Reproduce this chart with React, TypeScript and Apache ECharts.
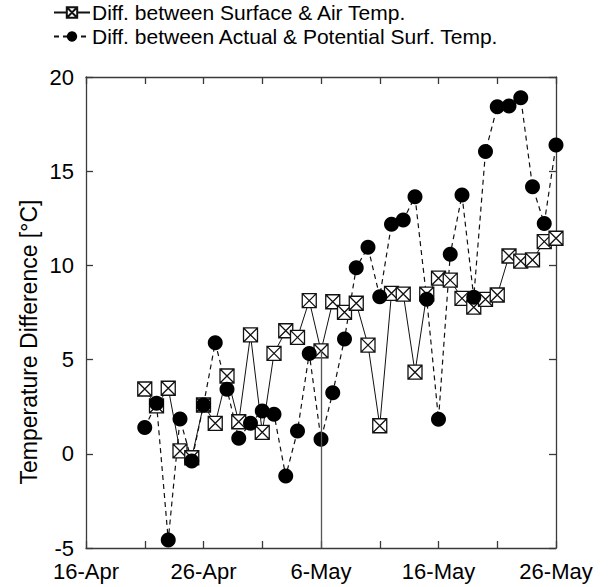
import React, { useEffect, useRef } from "react";
import * as echarts from "echarts";

const dateLabels = [
  "21-Apr", "22-Apr", "23-Apr", "24-Apr", "25-Apr", "26-Apr", "27-Apr", "28-Apr", "29-Apr", "30-Apr",
  "1-May", "2-May", "3-May", "4-May", "5-May", "6-May", "7-May", "8-May", "9-May", "10-May",
  "11-May", "12-May", "13-May", "14-May", "15-May", "16-May", "17-May", "18-May", "19-May", "20-May",
  "21-May", "22-May", "23-May", "24-May", "25-May", "26-May",
];

const surfAir = [
  3.44, 2.54, 3.48, 0.15, -0.21, 2.59, 1.62, 4.13, 1.7, 6.31,
  1.14, 5.33, 6.53, 6.18, 8.13, 5.46, 8.07, 7.51, 7.99, 5.77,
  1.49, 8.52, 8.48, 4.33, 8.48, 9.32, 9.22, 8.25, 7.78, 8.2,
  8.43, 10.5, 10.23, 10.29, 11.26, 11.44,
];

const actPot = [
  1.39, 2.68, -4.58, 1.85, -0.38, 2.59, 5.9, 3.42, 0.82, 1.62,
  2.27, 2.1, -1.18, 1.21, 5.33, 0.77, 3.24, 6.09, 9.88, 10.96,
  8.34, 12.18, 12.41, 13.65, 8.2, 1.83, 10.59, 13.74, 8.31, 16.04,
  18.42, 18.46, 18.9, 14.18, 12.23, 16.39,
];

const xTickLabels = ["16-Apr", "26-Apr", "6-May", "16-May", "26-May"];
const yTickLabels = ["-5", "0", "5", "10", "15", "20"];
const seriesNames = [
  "Diff. between Surface & Air Temp.",
  "Diff. between Actual & Potential Surf. Temp.",
];
const yAxisName = "Temperature Difference [°C]";

const monthOffset: Record<string, number> = { Apr: 0, May: 30 };
const dayOf = (s: string) => {
  const [d, m] = s.split("-");
  return monthOffset[m] + Number(d) - 16;
};

const X_MIN = dayOf(xTickLabels[0]);
const X_MAX = dayOf(xTickLabels[xTickLabels.length - 1]);
const Y_MIN = Number(yTickLabels[0]);
const Y_MAX = Number(yTickLabels[yTickLabels.length - 1]);

const squareX = "path://M0,0L10,0L10,10L0,10Z M0,0L10,10 M10,0L0,10";
const FONT = "Liberation Sans, Arial, sans-serif";
const AXIS_COLOR = "#3a3a3a";

export default function App() {
  const ref = useRef<HTMLDivElement>(null);
  useEffect(() => {
    if (!ref.current) return;
    const chart = echarts.init(ref.current, undefined, { renderer: "svg" });
    const markIdx = dateLabels.indexOf("6-May");
    const axisCommon = {
      type: "value" as const,
      axisLine: { show: true, onZero: false, lineStyle: { color: AXIS_COLOR, width: 1.3 } },
      axisTick: { show: true, inside: true, length: 7, lineStyle: { color: AXIS_COLOR, width: 1.3 } },
      splitLine: { show: false },
    };
    chart.setOption({
      animation: false,
      backgroundColor: "#ffffff",
      textStyle: { fontFamily: FONT },
      legend: {
        orient: "vertical",
        left: 53,
        top: 2,
        padding: 0,
        itemGap: 3,
        itemWidth: 36,
        itemHeight: 13,
        textStyle: { fontSize: 21, color: "#000", fontFamily: FONT, padding: [0, 0, 0, -3] },
        data: seriesNames,
      },
      graphic: [
        {
          type: "text",
          x: 29,
          y: 342,
          rotation: Math.PI / 2,
          style: {
            text: yAxisName,
            fontSize: 23,
            fontFamily: FONT,
            fill: "#000",
            textAlign: "center",
            textVerticalAlign: "middle",
          },
        },
      ],
      grid: { left: 86, right: 53, top: 77, bottom: 39, containLabel: false },
      xAxis: [
        {
          ...axisCommon,
          position: "bottom",
          min: X_MIN,
          max: X_MAX,
          interval: 5,
          axisLabel: {
            show: true,
            margin: 13,
            fontSize: 22,
            lineHeight: 20,
            color: "#000",
            fontFamily: FONT,
            showMinLabel: true,
            showMaxLabel: true,
            formatter: (v: number) => {
              const i = xTickLabels.findIndex((l) => dayOf(l) === v);
              return i >= 0 ? xTickLabels[i] : "";
            },
          },
        },
        {
          ...axisCommon,
          position: "top",
          min: X_MIN,
          max: X_MAX,
          interval: 5,
          axisLabel: { show: false },
        },
      ],
      yAxis: [
        {
          ...axisCommon,
          position: "left",
          min: Y_MIN,
          max: Y_MAX,
          interval: 5,
          axisLabel: {
            show: true,
            margin: 12,
            fontSize: 22,
            lineHeight: 18,
            color: "#000",
            fontFamily: FONT,
            formatter: (v: number) => {
              const s = String(v);
              return yTickLabels.includes(s) ? s : "";
            },
          },
        },
        {
          ...axisCommon,
          position: "right",
          min: Y_MIN,
          max: Y_MAX,
          interval: 5,
          axisLabel: { show: false },
        },
      ],
      series: [
        {
          name: seriesNames[0],
          type: "line",
          xAxisIndex: 0,
          yAxisIndex: 0,
          data: dateLabels.map((d, i) => [dayOf(d), surfAir[i]]),
          symbol: squareX,
          symbolSize: 14,
          showAllSymbol: true,
          lineStyle: { color: "#111", width: 1, type: "solid" },
          itemStyle: { color: "#ffffff", borderColor: "#111", borderWidth: 1.3 },
          markLine: {
            silent: true,
            symbol: "none",
            label: { show: false },
            lineStyle: { color: "#555", width: 1.3, type: "solid" },
            data: [
              [
                { coord: [dayOf(dateLabels[markIdx]), surfAir[markIdx]] },
                { coord: [dayOf(dateLabels[markIdx]), Y_MIN] },
              ],
            ],
          },
        },
        {
          name: seriesNames[1],
          type: "line",
          xAxisIndex: 0,
          yAxisIndex: 0,
          data: dateLabels.map((d, i) => [dayOf(d), actPot[i]]),
          symbol: "circle",
          symbolSize: 15,
          showAllSymbol: true,
          lineStyle: { color: "#111", width: 1.2, type: [5, 4] },
          itemStyle: { color: "#000" },
        },
      ],
    });
    return () => chart.dispose();
  }, []);
  return (
    <div
      ref={ref}
      style={{ position: "fixed", left: 0, top: 0, width: 609, height: 587, background: "#fff" }}
    />
  );
}
